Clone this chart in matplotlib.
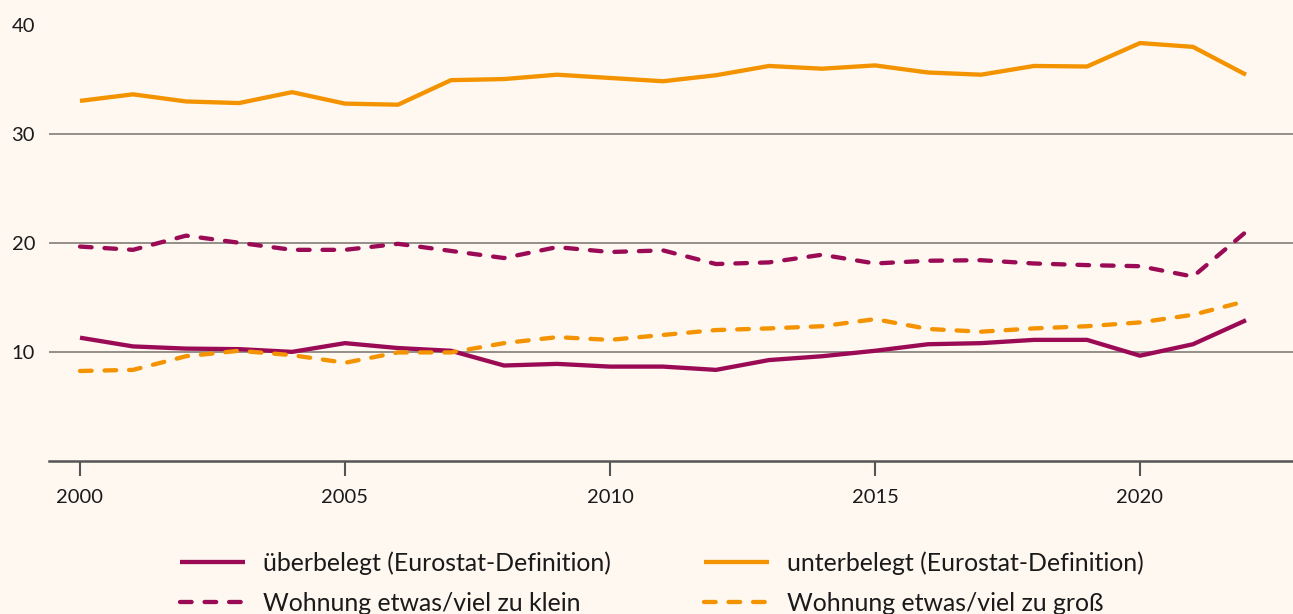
import matplotlib
matplotlib.use("Agg")
import matplotlib.pyplot as plt

years = list(range(2000, 2023))
ueberbelegt = [11.3, 10.5, 10.3, 10.25, 10.0, 10.8, 10.35, 10.1, 8.75, 8.9, 8.65, 8.65, 8.35,
               9.25, 9.6, 10.1, 10.7, 10.8, 11.1, 11.1, 9.65, 10.7, 12.9]
unterbelegt = [33.0, 33.6, 32.95, 32.8, 33.8, 32.75, 32.65, 34.9, 35.0, 35.4, 35.1, 34.8, 35.35,
               36.2, 35.95, 36.25, 35.6, 35.4, 36.2, 36.15, 38.3, 37.95, 35.4]
zu_klein = [19.65, 19.35, 20.65, 20.0, 19.35, 19.35, 19.9, 19.25, 18.6, 19.6, 19.15, 19.3, 18.05,
            18.2, 18.9, 18.1, 18.35, 18.4, 18.1, 17.95, 17.85, 16.9, 21.0]
zu_gross = [8.25, 8.35, 9.6, 10.1, 9.7, 9.0, 9.95, 9.95, 10.8, 11.35, 11.1, 11.55, 12.0,
            12.15, 12.35, 13.0, 12.1, 11.85, 12.15, 12.35, 12.7, 13.4, 14.65]
labels = ["überbelegt (Eurostat-Definition)", "Wohnung etwas/viel zu klein",
          "unterbelegt (Eurostat-Definition)", "Wohnung etwas/viel zu groß"]
x_ticks = [2000, 2005, 2010, 2015, 2020]
y_ticks = [10, 20, 30, 40]

BG = "#fef8f1"
PURPLE = "#9b0b55"
ORANGE = "#f49300"

plt.rcParams['font.family'] = ['Lato', 'DejaVu Sans']

fig = plt.figure(figsize=(12.93, 6.14), dpi=100, facecolor=BG)
ax = fig.add_axes([49/1293, (614-461)/614, 1 - 49/1293, (461-24.5)/614])
ax.set_facecolor(BG)

lw = 3.1
dash = (2.7, 3.0)
l1, = ax.plot(years, ueberbelegt, color=PURPLE, lw=lw, solid_capstyle='butt', zorder=3)
l2, = ax.plot(years, zu_klein, color=PURPLE, lw=lw, dashes=dash, dash_capstyle='round', zorder=3)
l3, = ax.plot(years, unterbelegt, color=ORANGE, lw=lw, solid_capstyle='butt', zorder=3)
l4, = ax.plot(years, zu_gross, color=ORANGE, lw=lw, dashes=dash, dash_capstyle='round', zorder=3)

ax.set_xlim(2000 + (49-80)/53, 2000 + (1293-80)/53)
ax.set_ylim(0, 40)
ax.set_xticks(x_ticks)
ax.set_xticklabels([str(v) for v in x_ticks])
ax.set_yticks(y_ticks)
ax.set_yticklabels([str(v) for v in y_ticks])

ax.grid(axis='y', color='#8c8781', lw=1.3, zorder=1)
ax.set_axisbelow(True)
for s in ['top', 'right', 'left']:
    ax.spines[s].set_visible(False)
ax.spines['bottom'].set_color('#555555')
ax.spines['bottom'].set_linewidth(1.8)
ax.tick_params(axis='x', direction='out', length=11, width=1.5, color='#555555',
               pad=9, labelsize=14.5, labelcolor='#1a1a1a')
ax.tick_params(axis='y', length=0, pad=10, labelsize=14.5, labelcolor='#1a1a1a')

leg = fig.legend([l1, l2, l3, l4], labels, ncol=2, loc='upper left',
                 bbox_to_anchor=(180/1293, 1 - 551/614), frameon=False,
                 fontsize=17.9, handlelength=2.62, handletextpad=0.72,
                 columnspacing=3.75, labelspacing=0.7, borderpad=0, borderaxespad=0)
for t in leg.get_texts():
    t.set_color('#1a1a1a')

fig.savefig("out.png", dpi=100, facecolor=BG)
